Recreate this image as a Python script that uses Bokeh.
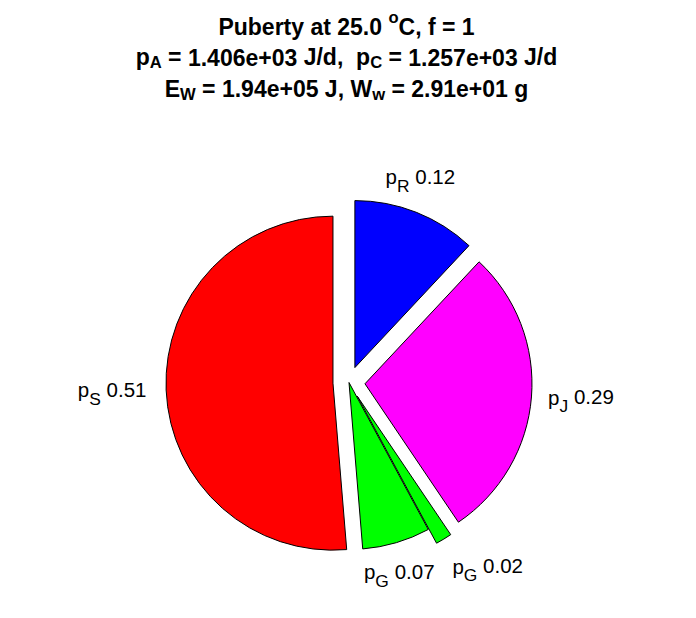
import re
import numpy as np
from bokeh.plotting import figure
from bokeh.models import Range1d, ColumnDataSource
from bokeh.core.properties import value
from bokeh.embed import file_html
from bokeh.resources import INLINE

# ---------------- data ----------------
flux_letters = ["R", "J", "G", "G", "S"]          # subscripts of p_x
fractions = [0.1197, 0.2858, 0.0158, 0.0656, 0.5131]
colors = ["#0000ff", "#ff00ff", "#00ff00", "#00ff00", "#ff0000"]
explode = [1, 1, 1, 0, 1]
T_C = 25.0
f_food = 1
pA = 1406.0
pC = 1257.0
EW = 1.94e5
Ww = 29.1

# ---------------- geometry ----------------
W, H = 680, 602
S = 167.0              # px per data unit (pie radius = 1)
CX, CY = 348.5, 382.0  # pie centre in figure px
FONT = "Liberation Sans"

def to_data(X, Y):
    return (X - CX) / S, (CY - Y) / S

REG = {' ': 278, '.': 278, 'p': 556, 'S': 667, 'R': 722, 'J': 500, 'G': 778}
BOLD = {' ': 278, '.': 278, ',': 278, '/': 278, '+': 584, '=': 584, 'e': 556,
        'p': 611, 'A': 722, 'C': 722, 'E': 667, 'W': 944, 'w': 778, 'J': 556,
        'd': 611, 'g': 611, 'o': 611, 'f': 333, 'P': 667, 'u': 611, 'b': 611,
        'r': 389, 't': 333, 'y': 556, 'a': 556}
for dch in "0123456789":
    REG[dch] = 556
    BOLD[dch] = 556

def tw(s, size, bold):
    tbl = BOLD if bold else REG
    return sum(tbl.get(c, 556) for c in s) * size / 1000.0

def run_width(segs, size, bold, scale):
    return sum(tw(s, size * (1 if r == 'n' else scale), bold) for s, r in segs)

def layout(segs, X0, Yb, size, bold, store, scale, drop, rise=8.0):
    X = X0
    for s, role in segs:
        sz = size if role == 'n' else size * scale
        dy = drop if role == 'sub' else (-rise if role == 'sup' else 0.0)
        for m in re.finditer(r"\S+", s):
            xs = X + tw(s[:m.start()], sz, bold)
            x, y = to_data(xs, Yb + dy)
            store["x"].append(x)
            store["y"].append(y)
            store["text"].append(m.group())
            store["size"].append(f"{sz:.1f}px")
        X += tw(s, sz, bold)

p = figure(width=W, height=H, x_range=Range1d(-CX / S, (W - CX) / S),
           y_range=Range1d((CY - H) / S, CY / S), x_axis_type=None, y_axis_type=None,
           toolbar_location=None, output_backend="svg", min_border=0)
p.title.visible = False
p.grid.visible = False
p.outline_line_color = None
p.background_fill_color = "white"
p.border_fill_color = "white"

# ---------------- wedges ----------------
frac = np.array(fractions) / np.sum(fractions)
cum = np.concatenate([[0.0], np.cumsum(frac)])
a_start = 90.0 - 360.0 * cum[:-1]
a_end = 90.0 - 360.0 * cum[1:]
mid = np.radians((a_start + a_end) / 2.0)
d = 0.096
ex = np.array(explode, dtype=float)
ox = d * np.cos(mid) * ex
oy = d * np.sin(mid) * ex

wsrc = ColumnDataSource(dict(x=ox, y=oy, s=np.radians(a_end), e=np.radians(a_start), c=colors))
p.wedge(x="x", y="y", radius=1.0, start_angle="s", end_angle="e",
        direction="anticlock", fill_color="c", line_color="black", line_width=1,
        source=wsrc)

# ---------------- slice labels ----------------
lab = dict(x=[], y=[], text=[], size=[])
LS = 20.5
LSUB = 0.85
for i in range(len(frac)):
    segs = [("p", 'n'), (flux_letters[i], 'sub'), (f" {fractions[i]:.2f}", 'n')]
    wtot = run_width(segs, LS, False, LSUB)
    ax = ox[i] + 1.1 * np.cos(mid[i])
    ay = oy[i] + 1.1 * np.sin(mid[i])
    AX = CX + ax * S
    AY = CY - ay * S
    c, s_ = np.cos(mid[i]), np.sin(mid[i])
    if abs(c) < 0.4:
        X0 = AX - wtot / 2 - 2
    elif c > 0:
        X0 = AX
    else:
        X0 = AX - wtot - 3
    if abs(s_) < 0.5:
        Yb = AY - 1
    elif s_ > 0:
        Yb = AY - 20
    else:
        Yb = AY + 13
    layout(segs, X0, Yb, LS, False, lab, LSUB, 9.0)

p.text(x="x", y="y", text="text", text_font_size="size", source=ColumnDataSource(lab),
       text_font=value(FONT), text_color="black", text_align="left",
       text_baseline="alphabetic")

# ---------------- title ----------------
TS = 23.0
TSUB = 0.72
TCX = 346.0
title_lines = [
    [(f"Puberty at {T_C:.1f} ", 'n'), ("o", 'sup'), (f"C, f = {f_food}", 'n')],
    [("p", 'n'), ("A", 'sub'), (f" = {pA:.3e} J/d,  p", 'n'), ("C", 'sub'),
     (f" = {pC:.3e} J/d", 'n')],
    [("E", 'n'), ("W", 'sub'), (f" = {EW:.2e} J, W", 'n'), ("w", 'sub'),
     (f" = {Ww:.2e} g", 'n')],
]
baselines = [26.0, 56.5, 88.0]
tt = dict(x=[], y=[], text=[], size=[])
for segs, yb in zip(title_lines, baselines):
    wtot = run_width(segs, TS, True, TSUB)
    layout(segs, TCX - wtot / 2, yb, TS, True, tt, TSUB, 5.5, rise=9.0)

p.text(x="x", y="y", text="text", text_font_size="size", source=ColumnDataSource(tt),
       text_font=value(FONT), text_font_style="bold", text_color="black",
       text_align="left", text_baseline="alphabetic")

open("out.html", "w").write(file_html(p, INLINE))
